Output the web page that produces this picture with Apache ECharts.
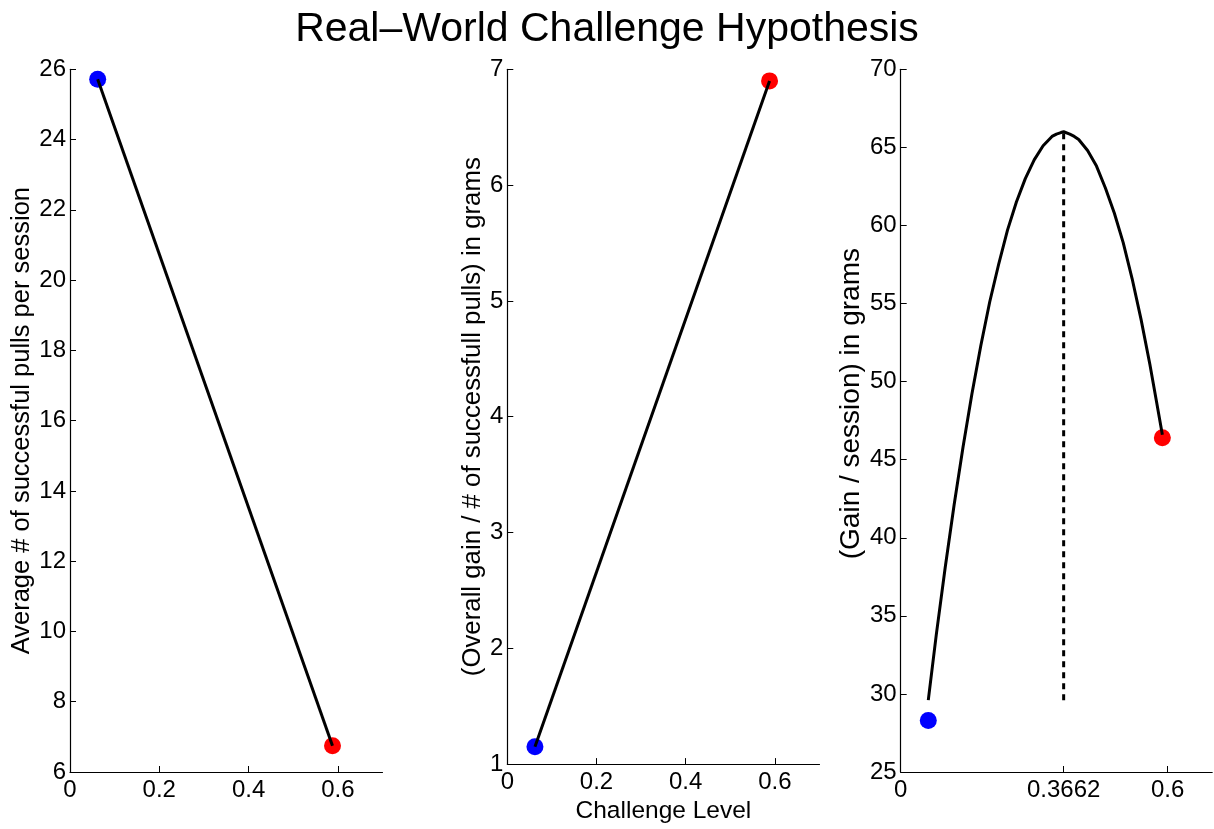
<!DOCTYPE html>
<html>
<head>
<meta charset="utf-8">
<script src="https://cdn.jsdelivr.net/npm/echarts@6/dist/echarts.min.js"></script>
<style>
  html, body { margin: 0; padding: 0; background: #fff; }
  #chart { width: 1214px; height: 829px; }
</style>
</head>
<body>
<div id="chart"></div>
<script>
// challenge levels of the two measured conditions
const challengeX = [0.062, 0.588];

// panel 1: average successful pulls per session
const pullsY = [25.72, 6.75];
// panel 2: gain per successful pull (grams)
const gainPerPullY = [1.15, 6.9];
// panel 3: gain per session (grams), points and fitted curve
const gainPerSessionY = [28.3, 46.4];
const curveX = [0.062, 0.08, 0.1, 0.12, 0.14, 0.16, 0.18, 0.2, 0.22, 0.24, 0.26, 0.28, 0.3, 0.32, 0.34,
  0.35, 0.36, 0.3662, 0.37, 0.38, 0.39, 0.4, 0.42, 0.44, 0.46, 0.48, 0.5, 0.52, 0.54, 0.56, 0.575, 0.588];
const curveY = [29.6, 33.8, 38.1, 42.1, 45.8, 49.2, 52.3, 55.1, 57.5, 59.7, 61.5, 63.0, 64.2, 65.1, 65.7,
  65.85, 65.95, 66.0, 65.95, 65.85, 65.7, 65.5, 64.8, 63.8, 62.4, 60.8, 58.9, 56.6, 54.0, 51.1, 48.7, 46.6];
const optimumX = 0.3662;
const optimumRange = [29.6, 66.0];

const xTicks12 = [0, 0.2, 0.4, 0.6];
const xTicks3 = [0, 0.3662, 0.6];

const font = "'Liberation Sans', Arial, sans-serif";
const pointColors = ["#0000ff", "#ff0000"];

const chart = echarts.init(document.getElementById("chart"));

const grids = [
  { left: 70, top: 69.3, width: 312.5, height: 702.7 },
  { left: 507.3, top: 69.3, width: 312.2, height: 702.7 },
  { left: 900.7, top: 69.3, width: 311.5, height: 702.7 },
];

function xAxis(i, ticks, extra) {
  return Object.assign({
    type: "value",
    gridIndex: i,
    min: 0,
    max: 0.7,
    axisLine: { show: true, lineStyle: { color: "#000", width: 1.2 } },
    axisTick: { show: true, inside: true, length: 6, customValues: ticks, lineStyle: { color: "#000" } },
    axisLabel: {
      customValues: ticks,
      color: "#000",
      fontFamily: font,
      fontSize: 24,
      margin: 6,
      formatter: (v) => String(v),
    },
    splitLine: { show: false },
  }, extra || {});
}

function yAxis(i, min, max, interval, name, gap, nameSize, namePad) {
  return {
    type: "value",
    gridIndex: i,
    min: min,
    max: max,
    interval: interval,
    name: name,
    nameLocation: "middle",
    nameGap: gap,
    nameTextStyle: { color: "#000", fontFamily: font, fontSize: nameSize, padding: namePad || 0 },
    axisLine: { show: true, lineStyle: { color: "#000", width: 1.2 } },
    axisTick: { show: true, inside: true, length: 6, lineStyle: { color: "#000" } },
    axisLabel: { color: "#000", fontFamily: font, fontSize: 24, margin: 4 },
    splitLine: { show: false },
  };
}

function points(i, ys) {
  return {
    type: "scatter",
    xAxisIndex: i,
    yAxisIndex: i,
    symbolSize: 17,
    data: challengeX.map((x, k) => ({
      value: [x, ys[k]],
      itemStyle: { color: pointColors[k], opacity: 1 },
    })),
    z: 1,
  };
}

function line(i, xs, ys, extra) {
  return Object.assign({
    type: "line",
    xAxisIndex: i,
    yAxisIndex: i,
    showSymbol: false,
    lineStyle: { color: "#000", width: 3, join: "round" },
    data: xs.map((x, k) => [x, ys[k]]),
    z: 3,
  }, extra || {});
}

chart.setOption({
  animation: false,
  title: {
    text: "Real\u2013World Challenge Hypothesis",
    left: "center",
    top: 4,
    textStyle: { color: "#000", fontFamily: font, fontSize: 41, fontWeight: "normal" },
  },
  grid: grids,
  xAxis: [
    xAxis(0, xTicks12),
    xAxis(1, xTicks12, {
      name: "Challenge Level",
      nameLocation: "middle",
      nameGap: 34,
      nameTextStyle: { color: "#000", fontFamily: font, fontSize: 24.5 },
    }),
    xAxis(2, xTicks3),
  ],
  yAxis: [
    yAxis(0, 6, 26, 2, "Average # of successful pulls per session", 34, 25.5),
    yAxis(1, 1, 7, 1, "(Overall gain / # of successfull pulls) in grams", 21, 25.8),
    yAxis(2, 25, 70, 5, "(Gain / session) in grams", 35, 28, [0, 0, 0, 34]),
  ],
  series: [
    points(0, pullsY),
    line(0, challengeX, pullsY),
    points(1, gainPerPullY),
    line(1, challengeX, gainPerPullY),
    points(2, gainPerSessionY),
    line(2, curveX, curveY),
    line(2, [optimumX, optimumX], optimumRange, {
      lineStyle: { color: "#000", width: 3, type: [6, 5] },
    }),
  ],
});
</script>
</body>
</html>
